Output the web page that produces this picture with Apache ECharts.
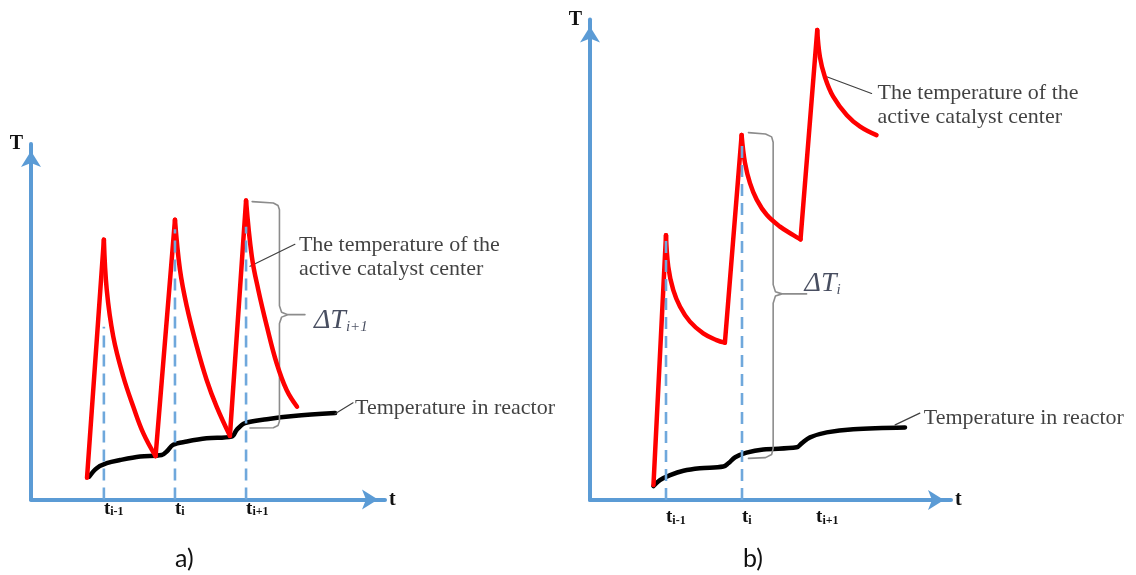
<!DOCTYPE html>
<html lang="en">
<head>
<meta charset="UTF-8">
<title>Temperature of the active catalyst center</title>
<script src="https://cdn.jsdelivr.net/npm/echarts@6/dist/echarts.min.js"></script>
<style>
  html, body { margin: 0; padding: 0; background: #fff; }
  #chart { width: 1136px; height: 575px; }
</style>
</head>
<body>
<div id="chart"></div>
<script>
    // subscripts of the three moments t(i-1), t(i), t(i+1)
    var tickNames = ['i-1', 'i', 'i+1'];

    // ---- panel a) ----
    var ticksA = [2.03, 4.01, 5.99];
    var dashTopA = [4.86, 7.6, 7.67];
    var redStartA = [1.56, 0.61];
    // each decay starts at a peak and ends at the next minimum
    var decayA1 = [[2.03, 7.31], [2.11, 5.90], [2.29, 4.59], [2.57, 3.46], [2.85, 2.61], [3.13, 1.86], [3.47, 1.22]];
    var decayA2 = [[4.01, 7.87], [4.15, 6.46], [4.34, 5.43], [4.62, 4.30], [4.89, 3.37], [5.17, 2.61], [5.54, 1.79]];
    var decayA3 = [[5.99, 8.41], [6.15, 6.84], [6.33, 5.90], [6.57, 4.87], [6.84, 3.84], [7.12, 3.08], [7.41, 2.61]];
    var blackA = [[1.62, 0.64], [1.83, 0.88], [2.11, 1.02], [2.48, 1.11], [3.04, 1.21], [3.64, 1.25], [3.78, 1.35], [3.96, 1.54],
        [4.34, 1.63], [4.89, 1.72], [5.59, 1.77], [5.73, 1.96], [5.96, 2.15], [6.57, 2.26], [7.31, 2.35], [8.47, 2.43]];
    var braceA = [[6.16, 8.38], [6.75, 8.34], [6.88, 8.27], [6.92, 8.15], [6.92, 5.45], [6.98, 5.27], [7.15, 5.20], [7.63, 5.20],
        [7.15, 5.20], [6.98, 5.13], [6.92, 4.95], [6.92, 2.20], [6.88, 2.08], [6.75, 2.02], [6.10, 2.01]];
    var leadCatA = [[6.10, 6.56], [7.35, 7.18]];
    var leadReaA = [[8.47, 2.41], [8.97, 2.72]];

    // ---- panel b) ----
    var ticksB = [2.0, 4.0, 5.95];
    var dashTopB = [7.39, 10.11];
    var redStartB = [1.67, 0.42];
    var decayB1 = [[2.00, 7.44], [2.06, 6.55], [2.19, 5.90], [2.37, 5.43], [2.63, 5.01], [2.98, 4.68], [3.33, 4.49], [3.55, 4.42]];
    var decayB2 = [[3.99, 10.25], [4.08, 9.46], [4.21, 8.90], [4.39, 8.43], [4.65, 8.01], [5.00, 7.68], [5.35, 7.44], [5.54, 7.32]];
    var decayB3 = [[5.98, 13.20], [6.05, 12.45], [6.18, 11.89], [6.40, 11.33], [6.76, 10.81], [7.11, 10.49], [7.54, 10.25]];
    var blackB = [[1.67, 0.39], [1.84, 0.56], [2.11, 0.70], [2.46, 0.82], [2.89, 0.89], [3.51, 0.94], [3.64, 1.03], [3.82, 1.20],
        [4.12, 1.33], [4.56, 1.42], [5.44, 1.48], [5.57, 1.59], [5.79, 1.76], [6.23, 1.90], [6.93, 1.99], [8.29, 2.04]];
    var braceB = [[4.17, 10.32], [4.62, 10.28], [4.78, 10.20], [4.82, 10.05], [4.82, 6.05], [4.88, 5.85], [5.05, 5.79], [5.70, 5.79],
        [5.05, 5.79], [4.88, 5.73], [4.82, 5.53], [4.82, 1.45], [4.78, 1.28], [4.62, 1.19], [4.17, 1.17]];
    var leadCatB = [[6.23, 11.89], [7.41, 11.42]];
    var leadReaB = [[8.03, 2.11], [8.68, 2.44]];

    var serif = 'Liberation Serif';
    var blue = '#5b9bd5';
    var txtColor = '#111';

    function axisX(idx, max, ticks, margin) {
        return {
            type: 'value', gridIndex: idx, min: 0, max: max,
            name: 't', nameLocation: 'end', nameGap: 4,
            nameTextStyle: { fontFamily: serif, fontWeight: 'bold', fontSize: 20, color: txtColor, padding: [0, 0, 20, 0] },
            axisLine: { show: true, symbol: ['none', 'arrow'], symbolSize: [15, 16], symbolOffset: [0, -7],
                lineStyle: { color: blue, width: 4 } },
            axisTick: { show: false },
            splitLine: { show: false },
            axisLabel: {
                show: true, customValues: ticks, align: 'left', margin: margin,
                formatter: function (v) {
                    var i = ticks.indexOf(v);
                    return '{t|t}{s|' + tickNames[i] + '}';
                },
                rich: {
                    t: { fontFamily: serif, fontWeight: 'bold', fontSize: 19, color: txtColor },
                    s: { fontFamily: serif, fontWeight: 'bold', fontSize: 12, color: txtColor, padding: [6, 0, 0, 0] }
                }
            }
        };
    }

    function axisY(idx, max) {
        return {
            type: 'value', gridIndex: idx, min: 0, max: max,
            name: 'T', nameLocation: 'end', nameGap: 0,
            nameTextStyle: { fontFamily: serif, fontWeight: 'bold', fontSize: 20, color: txtColor,
                align: 'right', verticalAlign: 'middle', padding: [0, 8, 6, 0] },
            axisLine: { show: true, symbol: ['none', 'arrow'], symbolSize: [15, 16], symbolOffset: [0, -7],
                lineStyle: { color: blue, width: 4 } },
            axisTick: { show: false },
            splitLine: { show: false },
            axisLabel: { show: false }
        };
    }

    function plain(idx, data, color, width, extra) {
        var s = {
            type: 'line', xAxisIndex: idx, yAxisIndex: idx, data: data,
            symbol: 'none', silent: true,
            lineStyle: { color: color, width: width, join: 'round', cap: 'round' }
        };
        for (var k in extra) s[k] = extra[k];
        return s;
    }

    // straight rises into each peak, smooth decays after it
    function redCurve(idx, start, decays) {
        var out = [];
        var prev = start;
        decays.forEach(function (d) {
            out.push(plain(idx, [prev, d[0]], '#ff0000', 4.5, { z: 3 }));
            out.push(plain(idx, d, '#ff0000', 4.5, { z: 3, smooth: 0.4 }));
            prev = d[d.length - 1];
        });
        return out;
    }

    function dashes(idx, ticks, tops) {
        return tops.map(function (top, i) {
            return plain(idx, [[ticks[i], 0], [ticks[i], top]], '#6fa8dc', 2.5,
                { z: 5, lineStyle: { color: '#6fa8dc', width: 2.6, type: [12, 7] } });
        });
    }

    var catText = 'The temperature of the\nactive catalyst center';
    var reaText = 'Temperature in reactor';

    function notes(idx, items) {
        return {
            type: 'scatter', xAxisIndex: idx, yAxisIndex: idx, symbolSize: 0, silent: true, z: 6,
            itemStyle: { color: 'transparent' },
            data: items.map(function (it) {
                return {
                    value: it.at,
                    label: {
                        show: true, position: 'right', distance: it.dist, offset: it.off,
                        formatter: it.text, fontFamily: serif, fontSize: 22, lineHeight: 24, color: txtColor,
                        rich: {
                            d: { fontFamily: serif, fontStyle: 'italic', fontSize: 28, lineHeight: 28, color: '#1a2238' },
                            s: { fontFamily: serif, fontStyle: 'italic', fontSize: 15, lineHeight: 14, color: '#1a2238',
                                verticalAlign: 'bottom', padding: [24, 0, 0, 0] }
                        }
                    }
                };
            })
        };
    }

    var series = [
        plain(0, blackA, '#000', 4.5, { smooth: 0.35 }),
        plain(0, braceA, '#8c8c8c', 1.6, {}),
        plain(0, leadCatA, '#404040', 1.2, {}),
        plain(0, leadReaA, '#404040', 1.2, {}),
        notes(0, [
            { at: leadCatA[1], text: catText, dist: 4, off: [0, 13] },
            { at: leadReaA[1], text: reaText, dist: 2, off: [0, 5] },
            { at: braceA[7], text: '{d|ΔT}{s|i+1}', dist: 9, off: [0, 6] }
        ]),
        plain(1, blackB, '#000', 4.5, { smooth: 0.35 }),
        plain(1, braceB, '#8c8c8c', 1.6, {}),
        plain(1, leadCatB, '#404040', 1.2, {}),
        plain(1, leadReaB, '#404040', 1.2, {}),
        notes(1, [
            { at: leadCatB[1], text: catText, dist: 6, off: [0, 12] },
            { at: leadReaB[1], text: reaText, dist: 4, off: [0, 5] },
            { at: braceB[7], text: '{d|ΔT}{s|i}', dist: 0, off: [-2, -10] }
        ])
    ].concat(
        redCurve(0, redStartA, [decayA1, decayA2, decayA3]),
        redCurve(1, redStartB, [decayB1, decayB2, decayB3]),
        dashes(0, ticksA, dashTopA),
        dashes(1, ticksB, dashTopB)
    );

    var myChart = echarts.init(document.getElementById('chart'));
    var option = {
        backgroundColor: '#fff',
        animation: false,
        title: [
            { text: 'a)', left: 170, top: 541, textStyle: { fontFamily: 'Lato', fontWeight: 'normal', fontSize: 25, color: txtColor } },
            { text: 'b)', left: 738, top: 541, textStyle: { fontFamily: 'Lato', fontWeight: 'normal', fontSize: 25, color: txtColor } }
        ],
        grid: [
            { left: 31, top: 144, width: 354, height: 355.5 },
            { left: 590, top: 19.4, width: 361, height: 480.6 }
        ],
        xAxis: [axisX(0, 9.86, ticksA, 0), axisX(1, 9.5, ticksB, 8)],
        yAxis: [axisY(0, 10), axisY(1, 13.5)],
        series: series
    };
    myChart.setOption(option);
</script>
</body>
</html>
